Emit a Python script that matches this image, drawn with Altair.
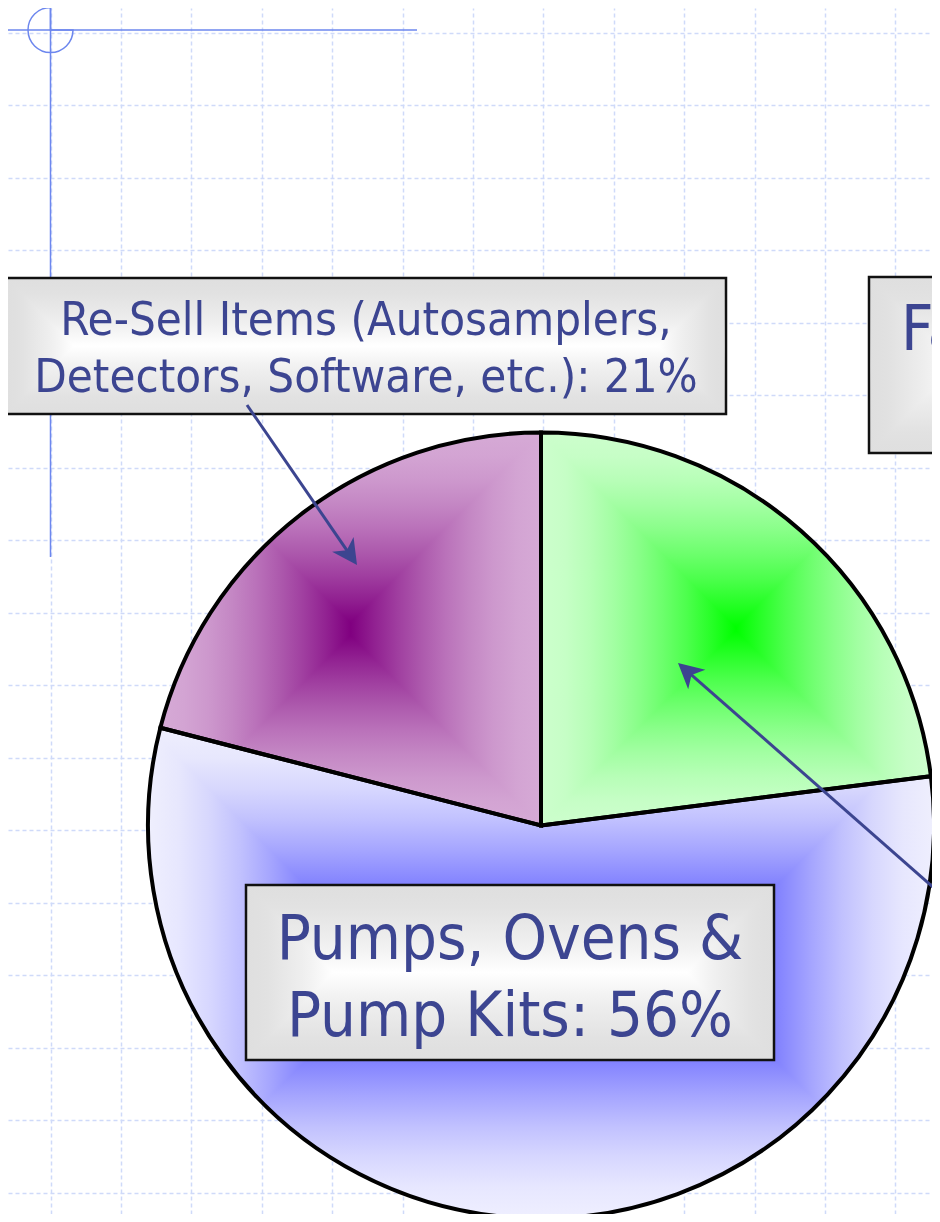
import math
import altair as alt
import pandas as pd

# ---------------- data ----------------
categories = [
    "Fabricated Parts & Services",
    "Pumps, Ovens & Pump Kits",
    "Re-Sell Items (Autosamplers, Detectors, Software, etc.)",
]
shares = [23, 56, 21]
slice_center_colors = ["#00ff00", "#1010ff", "#800080"]
slice_edge_colors = ["#cdfecd", "#efeffd", "#d6aad6"]

label_text = [
    "Re-Sell Items (Autosamplers,",
    "Detectors, Software, etc.): 21%",
    "Pumps, Ovens &",
    "Pump Kits: 56%",
    "Fabricated Parts &",
    "Services: 23%",
]

grid_x_values = [50.6, 121, 191.4, 261.8, 332.2, 402.6, 473, 543.4, 613.8,
                 684.2, 754.6, 825, 895.4]
grid_y_values = [32.5, 105, 177.5, 250, 322.5, 395, 467.5, 540, 612.5, 685,
                 757.5, 830, 902.5, 975, 1047.5, 1120, 1192.5]

# ---------------- layout ----------------
W, H = 924, 1206
X0, Y0 = 8, 8
PIE_CX, PIE_CY, PIE_R = 541, 825.5, 393
FONT = "DejaVu Sans Condensed, Liberation Sans Narrow, DejaVu Sans"
TEXT_COLOR = "#3c4591"
ARROW_COLOR = "#3c4590"
GUIDE_COLOR = "#6d87ee"
GRID_COLOR = "#cfdaf9"

box_x0 = [6, 246, 869]
box_x1 = [726, 774, 1500]
box_y0 = [278, 885, 277]
box_y1 = [414, 1060, 453]

text_x = [366, 366, 510, 510, 901, 1185]
text_y = [335, 392, 959, 1036, 350, 427]
text_size = [47, 47, 63, 63, 63, 63]
text_align = ["center", "center", "center", "center", "left", "center"]

arrow_tail = [(247, 405), (1000, 946)]
arrow_tip = [(357, 565), (678, 663)]

# ---------------- helpers ----------------
xs = alt.Scale(domain=[X0, X0 + W], nice=False, zero=False)
ys = alt.Scale(domain=[Y0, Y0 + H], nice=False, zero=False, reverse=True)
x_axis = alt.Axis(values=grid_x_values, grid=True, gridColor=GRID_COLOR,
                  gridDash=[4, 3], gridWidth=1.5, labels=False, ticks=False,
                  domain=False, title="")
y_axis = alt.Axis(values=grid_y_values, grid=True, gridColor=GRID_COLOR,
                  gridDash=[4, 3], gridWidth=1.5, labels=False, ticks=False,
                  domain=False, title="")


def X(f):
    return alt.X(f, type="quantitative", scale=xs, axis=x_axis)


def Y(f):
    return alt.Y(f, type="quantitative", scale=ys, axis=y_axis)


def hex2rgb(h):
    h = h.lstrip("#")
    return [int(h[i:i + 2], 16) for i in (0, 2, 4)]


def mix(edge, center, f):
    a, b = hex2rgb(edge), hex2rgb(center)
    return "#" + "".join("%02x" % round(a[i] + (b[i] - a[i]) * f) for i in range(3))


def rect_gradient(edge, center, length, half, horizontal, power=1.6, n=8):
    frac = min(0.5, half / length)
    stops = []
    for k in range(n + 1):
        t = k / n
        stops.append((round(t * frac, 4), mix(edge, center, min(1.0, t ** power))))
    for k in range(n, -1, -1):
        t = k / n
        stops.append((round(1 - t * frac, 4), mix(edge, center, min(1.0, t ** power))))
    gs = [alt.GradientStop(color=c, offset=o) for o, c in stops]
    if horizontal:
        return alt.LinearGradient(gradient="linear", stops=gs, x1=0, x2=1, y1=0, y2=0)
    return alt.LinearGradient(gradient="linear", stops=gs, x1=0, x2=0, y1=0, y2=1)


def slice_bbox(p0, p1, r):
    a0, a1 = p0 * 3.6, p1 * 3.6
    angs = [a0, a1] + [k for k in (0, 90, 180, 270, 360) if a0 < k < a1]
    pts = [(0.0, 0.0)] + [(r * math.sin(math.radians(a)), -r * math.cos(math.radians(a))) for a in angs]
    px = [p[0] for p in pts]
    py = [p[1] for p in pts]
    return max(px) - min(px), max(py) - min(py)


layers = []

# crosshair guide (template decoration)
guide = pd.DataFrame({"x": [50.5, 6], "y": [7, 30], "x2": [50.5, 417], "y2": [557, 30]})
layers.append(alt.Chart(guide).mark_rule(color=GUIDE_COLOR, strokeWidth=1.5).encode(
    x=X("x"), y=Y("y"), x2="x2", y2="y2"))
layers.append(alt.Chart(pd.DataFrame({"cx": [50.5], "cy": [30]})).mark_arc(
    radius=22.5, theta=math.pi / 2, theta2=2 * math.pi, filled=False,
    stroke=GUIDE_COLOR, strokeWidth=1.5).encode(x=X("cx"), y=Y("cy")))

# pie
pie = pd.DataFrame({"category": categories, "share": shares})
pie["end"] = pie["share"].cumsum()
pie["start"] = pie["end"] - pie["share"]
pie["cx"] = PIE_CX
pie["cy"] = PIE_CY
ts = alt.Scale(domain=[0, 100], range=[0, 2 * math.pi])

for i in range(len(categories)):
    one = pie.iloc[[i]]
    w, h = slice_bbox(one["start"].iloc[0], one["end"].iloc[0], PIE_R)
    half = min(w, h) / 2
    enc = dict(x=X("cx"), y=Y("cy"), theta=alt.Theta("start:Q", scale=ts), theta2="end:Q")
    layers.append(alt.Chart(one).mark_arc(
        radius=PIE_R,
        fill=rect_gradient(slice_edge_colors[i], slice_center_colors[i], w, half, True)
    ).encode(**enc))
    layers.append(alt.Chart(one).mark_arc(
        radius=PIE_R, blend="lighten",
        fill=rect_gradient(slice_edge_colors[i], slice_center_colors[i], h, half, False)
    ).encode(**enc))

layers.append(alt.Chart(pie).mark_arc(
    radius=PIE_R, filled=False, stroke="black", strokeWidth=4
).encode(x=X("cx"), y=Y("cy"), theta=alt.Theta("start:Q", scale=ts), theta2="end:Q"))

# label boxes
for i in range(3):
    bw = box_x1[i] - box_x0[i]
    bh = box_y1[i] - box_y0[i]
    half = min(bw, bh) / 2
    bd = pd.DataFrame({"x0": [box_x0[i]], "x1": [box_x1[i]], "y0": [box_y0[i]], "y1": [box_y1[i]]})
    enc = dict(x=X("x0"), x2="x1", y=Y("y0"), y2="y1")
    layers.append(alt.Chart(bd).mark_rect(
        fill=rect_gradient("#dfdfdf", "#ffffff", bw, half, True)).encode(**enc))
    layers.append(alt.Chart(bd).mark_rect(
        blend="darken", stroke="#111111", strokeWidth=2.5,
        fill=rect_gradient("#dfdfdf", "#ffffff", bh, half, False)).encode(**enc))

# label text
txt = pd.DataFrame({"text": label_text, "x": text_x, "y": text_y,
                    "size": text_size, "align": text_align})
for al in ["center", "left"]:
    layers.append(alt.Chart(txt[txt["align"] == al]).mark_text(
        font=FONT, color=TEXT_COLOR, baseline="alphabetic", align=al
    ).encode(x=X("x"), y=Y("y"), text="text:N", size=alt.Size("size:Q", scale=None)))

# arrows
HEAD = "M0,0L0.52,1L0,0.72L-0.52,1Z"
rows = []
for (tx, ty), (hx, hy) in zip(arrow_tail, arrow_tip):
    dx, dy = hx - tx, hy - ty
    L = math.hypot(dx, dy)
    ux, uy = dx / L, dy / L
    ang = math.degrees(math.atan2(dx, -dy)) % 360
    rows.append({"x": tx, "y": ty, "x2": hx - ux * 16, "y2": hy - uy * 16,
                 "hx": hx, "hy": hy, "angle": ang})
arr = pd.DataFrame(rows)
layers.append(alt.Chart(arr).mark_rule(color=ARROW_COLOR, strokeWidth=3).encode(
    x=X("x"), y=Y("y"), x2="x2", y2="y2"))
layers.append(alt.Chart(arr).mark_point(
    shape=HEAD, filled=True, size=2500, color=ARROW_COLOR, opacity=1, strokeWidth=0
).encode(x=X("hx"), y=Y("hy"), angle=alt.Angle("angle:Q", scale=None)))

chart = alt.layer(*layers).properties(
    width=W, height=H, padding=0,
    autosize=alt.AutoSizeParams(type="none"), background="white"
).configure_view(stroke=None)

chart.save("out.html", embed_options={"renderer": "svg", "actions": False})
